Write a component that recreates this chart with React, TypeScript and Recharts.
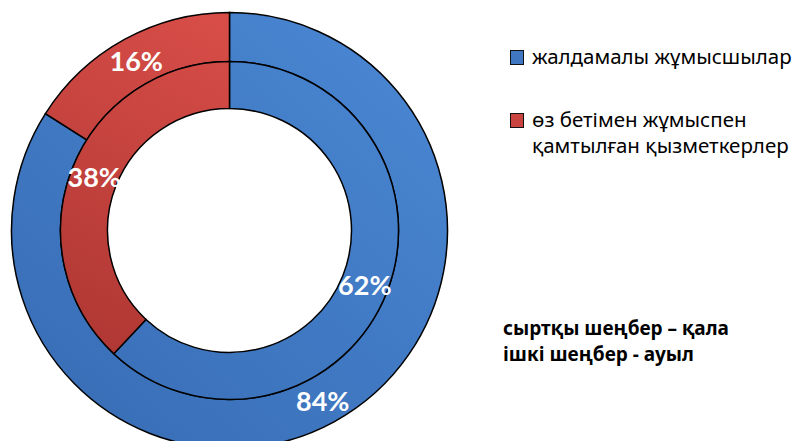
import React from 'react';
import { PieChart, Pie, Cell, Legend } from 'recharts';

const categories = ['жалдамалы жұмысшылар', 'өз бетімен жұмыспен қамтылған қызметкерлер'];
const outerCity = [84, 16];
const innerVillage = [62, 38];
const noteLines = ['сыртқы шеңбер – қала', 'ішкі шеңбер - ауыл'];

const colors = ['#3f77c2', '#c9433f'];
const fills = ['url(#gradBlue)', 'url(#gradRed)'];

const outerData = categories.map((name, i) => ({ name, value: outerCity[i] }));
const innerData = categories.map((name, i) => ({ name, value: innerVillage[i] }));

const RADIAN = Math.PI / 180;

const renderLabel = (props: any) => {
  const { cx, cy, midAngle, innerRadius, outerRadius, value } = props;
  const r = (innerRadius + outerRadius) / 2;
  const x = cx + r * Math.cos(-midAngle * RADIAN);
  const y = cy + r * Math.sin(-midAngle * RADIAN);
  return (
    <text
      x={x}
      y={y}
      fill="#fff"
      textAnchor="middle"
      dominantBaseline="central"
      style={{ fontFamily: 'Lato, "Open Sans", sans-serif', fontWeight: 700, fontSize: 27 }}
    >
      {value}%
    </text>
  );
};

const LegendBox = () => (
  <div style={{ fontFamily: '"Noto Sans", sans-serif', fontSize: 20.5, color: '#000' }}>
    {categories.map((c, i) => (
      <div key={c} style={{ display: 'flex', alignItems: 'flex-start', marginBottom: i === 0 ? 37 : 0 }}>
        <span
          style={{
            width: 12,
            height: 13,
            marginTop: 7,
            marginRight: 8,
            flex: 'none',
            background: colors[i],
            border: '1px solid #111',
          }}
        />
        <span style={{ lineHeight: '26px', width: 270 }}>{c}</span>
      </div>
    ))}
  </div>
);

const App: React.FC = () => {
  return (
    <div style={{ position: 'absolute', left: 0, top: 0, width: 801, height: 441, background: '#fff', overflow: 'hidden' }}>
      <PieChart width={801} height={441} margin={{ top: 0, right: 0, bottom: 0, left: 0 }}>
        <defs>
          <linearGradient id="gradBlue" gradientUnits="userSpaceOnUse" x1="420" y1="20" x2="60" y2="440">
            <stop offset="0%" stopColor="#4a87d3" />
            <stop offset="100%" stopColor="#386db5" />
          </linearGradient>
          <linearGradient id="gradRed" gradientUnits="userSpaceOnUse" x1="230" y1="20" x2="60" y2="360">
            <stop offset="0%" stopColor="#d84d48" />
            <stop offset="100%" stopColor="#ad3632" />
          </linearGradient>
        </defs>
        <Pie
          data={outerData}
          dataKey="value"
          cx={229.5}
          cy={230.5}
          innerRadius={169}
          outerRadius={218}
          startAngle={90}
          endAngle={-270}
          stroke="#000"
          strokeWidth={1.5}
          label={renderLabel}
          labelLine={false}
          isAnimationActive={false}
        >
          {outerData.map((d, i) => (
            <Cell key={d.name} fill={fills[i]} />
          ))}
        </Pie>
        <Pie
          data={innerData}
          dataKey="value"
          cx={229.5}
          cy={230.5}
          innerRadius={122}
          outerRadius={169}
          startAngle={90}
          endAngle={-270}
          stroke="#000"
          strokeWidth={1.5}
          label={renderLabel}
          labelLine={false}
          isAnimationActive={false}
        >
          {innerData.map((d, i) => (
            <Cell key={d.name} fill={fills[i]} />
          ))}
        </Pie>
        <Legend
          content={<LegendBox />}
          wrapperStyle={{ position: 'absolute', left: 510, top: 43, width: 291 }}
        />
      </PieChart>
      <div
        style={{
          position: 'absolute',
          left: 503,
          top: 315,
          fontFamily: '"Noto Sans", sans-serif',
          fontWeight: 700,
          fontSize: 19,
          lineHeight: '26px',
          color: '#000',
        }}
      >
        {noteLines.map((l) => (
          <div key={l}>{l}</div>
        ))}
      </div>
    </div>
  );
};

export default App;
